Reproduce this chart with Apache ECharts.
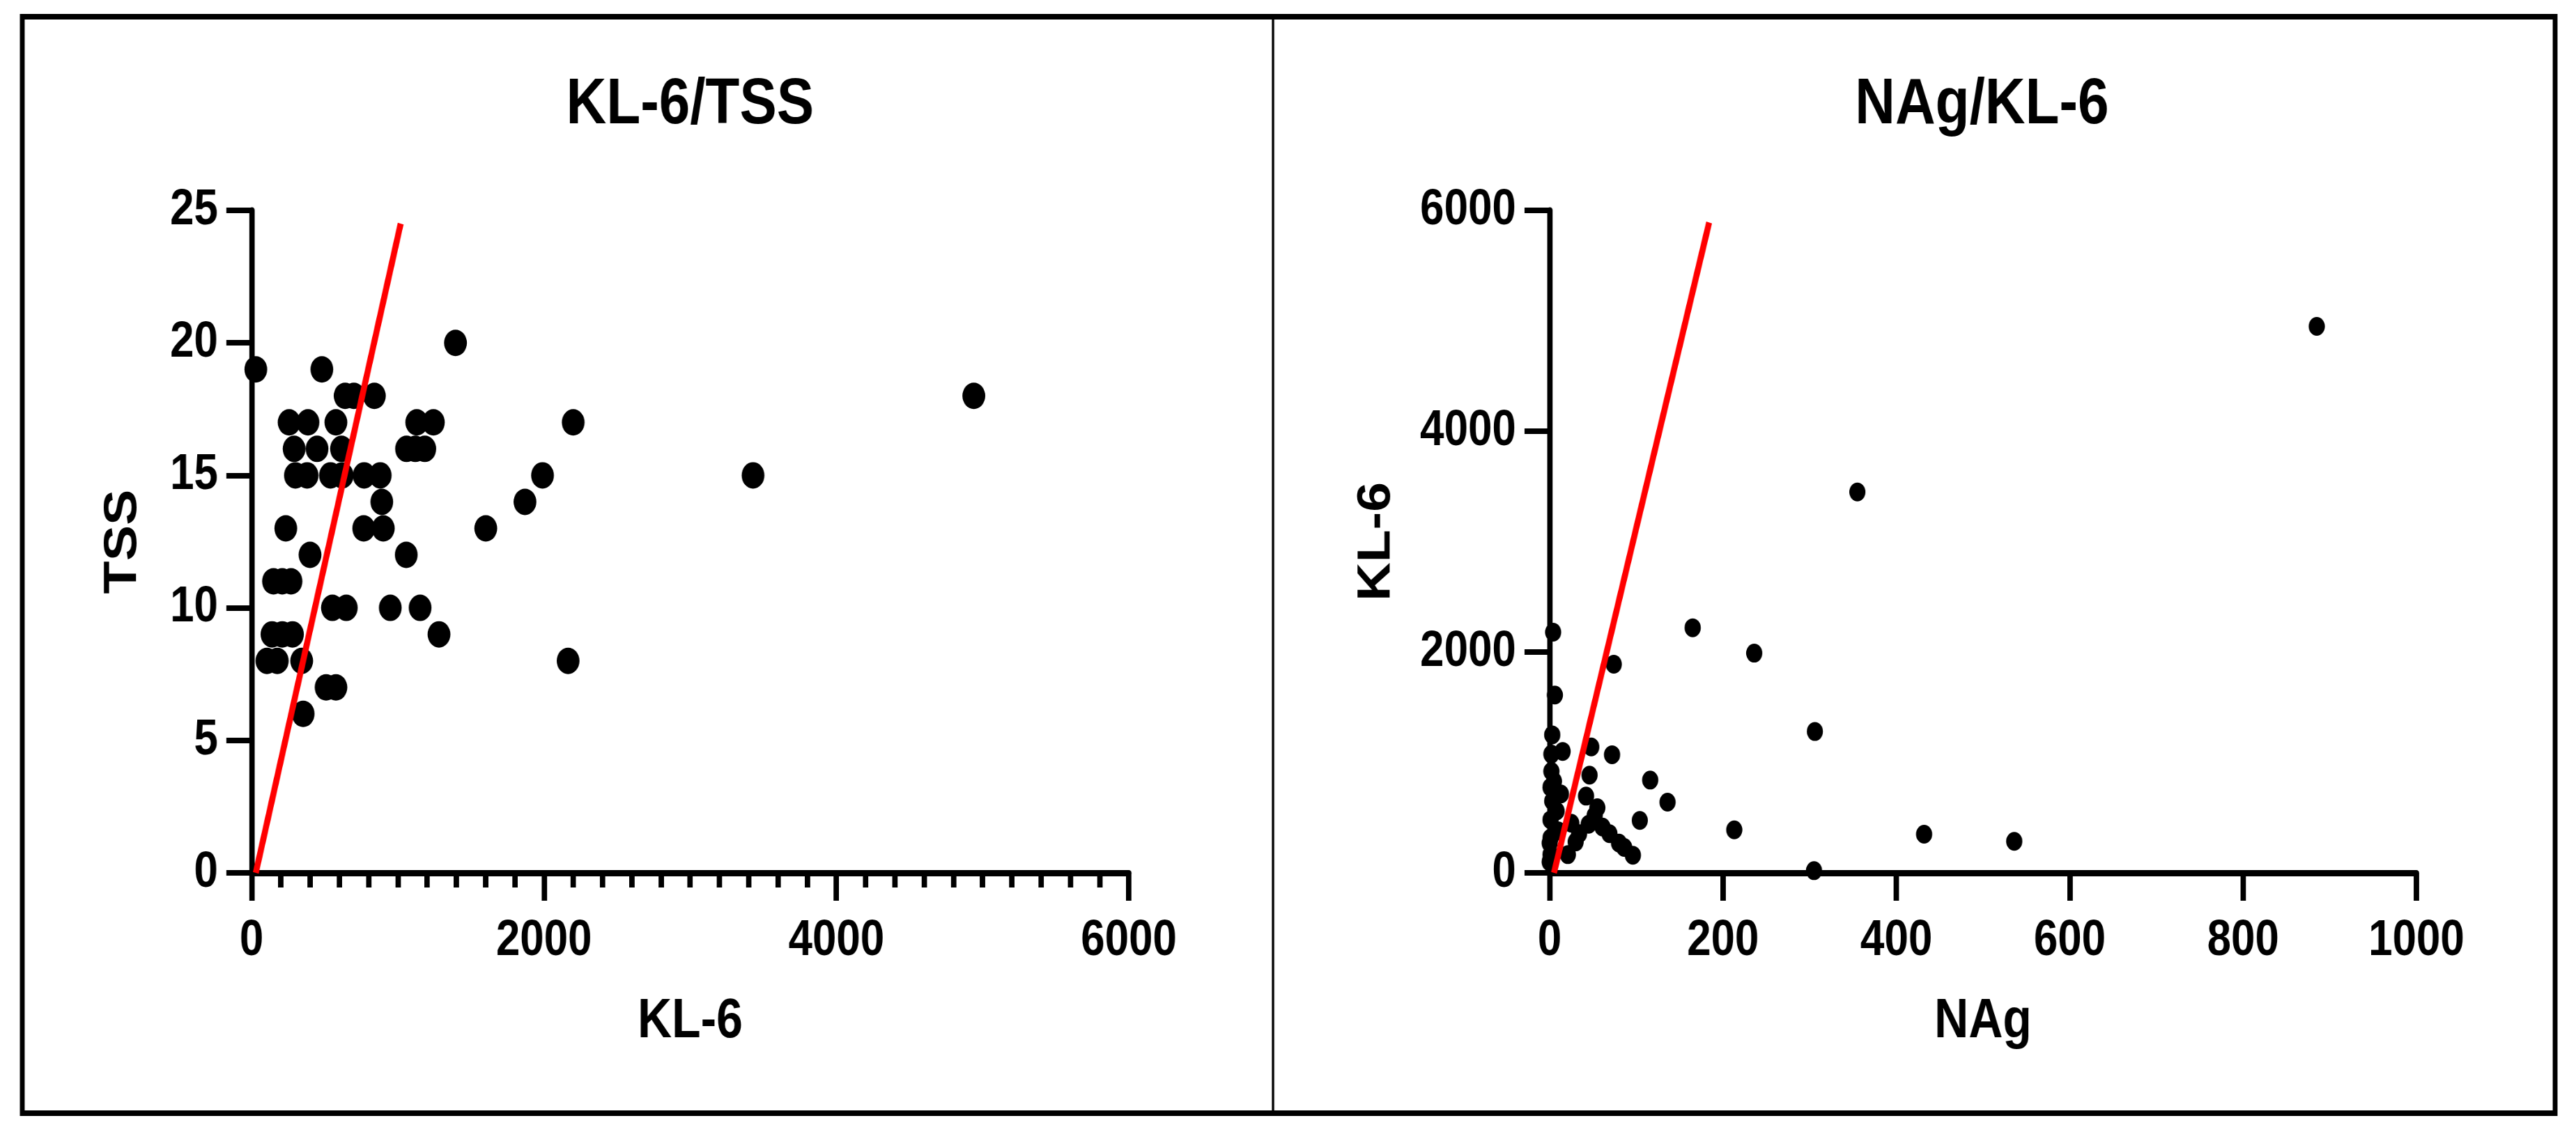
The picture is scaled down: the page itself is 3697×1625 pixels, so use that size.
<!DOCTYPE html>
<html>
<head>
<meta charset="utf-8">
<script src="https://cdn.jsdelivr.net/npm/echarts@6/dist/echarts.min.js"></script>
<style>
html, body { margin: 0; padding: 0; overflow: hidden; background: #ffffff; }
/* the source figure is squeezed horizontally, so the chart is drawn wider and squeezed back */
#chart { width: 4299px; height: 1625px; transform: scaleX(0.86); transform-origin: 0 0; }
</style>
</head>
<body>
<div id="chart"></div>
<script>
// KL-6 (x) vs TSS (y)
var kl6_tss = [
	[29,19],[481,19],[1395,20],
	[640,18],[700,18],[840,18],[4940,18],
	[257,17],[386,17],[577,17],[1130,17],[1244,17],[2200,17],
	[291,16],[448,16],[615,16],[1060,16],[1120,16],[1185,16],
	[300,15],[380,15],[540,15],[620,15],[770,15],[880,15],[1990,15],[3430,15],
	[891,14],[1870,14],
	[234,13],[767,13],[901,13],[1602,13],
	[400,12],[1058,12],
	[150,11],[210,11],[270,11],
	[553,10],[648,10],[949,10],[1153,10],
	[140,9],[210,9],[280,9],[1282,9],
	[105,8],[176,8],[343,8],[2165,8],
	[510,7],[577,7],
	[353,6]
];
// NAg (x) vs KL-6 (y)
var nag_kl6 = [
	[885,4950],[355,3450],[165,2220],[236,1990],[4,2180],[74,1890],[6,1610],
	[306,1280],[213,390],[432,350],[536,285],[305,20],
	[116,840],[136,640],[104,475],[72,1070],[48,1140],[15,1100],[3,1250],[46,885],
	[2,1075],[2,920],[1,775],[3,650],[1,480],[1,315],[1,165],[13,715],
	[42,695],[55,590],[34,355],[21,165],[61,415],[69,355],[80,270],[86,230],[96,160],
	[45,440],[0,100],[0,270],[8,560],[5,830],[10,380],[25,450],[30,280],[52,520]
];
var fit_left = [[29,0],[1020,24.5]];
var fit_right = [[5,0],[184,5890]];

var titles = ['KL-6/TSS', 'NAg/KL-6'];
var x_names = ['KL-6', 'NAg'];
var y_names = ['TSS', 'KL-6'];
var x_ranges = [[0, 6000, 2000], [0, 1000, 200]];
var y_ranges = [[0, 25, 5], [0, 6000, 2000]];

var SX = 0.86;
function u(x) { return x / SX; }

var FONT = "'Liberation Sans', Arial, sans-serif";
var grids = [
	{left: u(361), top: 302, width: u(1620) - u(361), height: 951},
	{left: u(2224), top: 302, width: u(3468) - u(2224), height: 951}
];

var f_plain = function(v) { return String(v); };

function f_xaxis(i, minor) {
	return {
		type: 'value', gridIndex: i,
		min: x_ranges[i][0], max: x_ranges[i][1], interval: x_ranges[i][2],
		name: x_names[i], nameLocation: 'middle', nameGap: 175,
		nameTextStyle: {fontSize: 79, fontWeight: 'bold', fontFamily: FONT, color: '#000'},
		axisLine: {show: true, onZero: false, lineStyle: {color: '#000', width: 9}},
		axisTick: {show: true, length: 40, lineStyle: {color: '#000', width: 9}},
		minorTick: {show: minor, splitNumber: 10, length: 21, lineStyle: {color: '#000', width: 9}},
		axisLabel: {margin: 62, fontSize: 72, fontWeight: 'bold', fontFamily: FONT, color: '#000', formatter: f_plain},
		splitLine: {show: false}
	};
}
function f_yaxis(i) {
	return {
		type: 'value', gridIndex: i,
		min: y_ranges[i][0], max: y_ranges[i][1], interval: y_ranges[i][2],
		name: y_names[i], nameLocation: 'middle', nameGap: i == 0 ? 176 : 250,
		nameTextStyle: {fontSize: 77, fontWeight: 'bold', fontFamily: FONT, color: '#000'},
		axisLine: {show: true, onZero: false, lineStyle: {color: '#000', width: 9}},
		axisTick: {show: true, length: 42, lineStyle: {color: '#000', width: 8}},
		axisLabel: {margin: 56, fontSize: 72, fontWeight: 'bold', fontFamily: FONT, color: '#000', formatter: f_plain},
		splitLine: {show: false}
	};
}

var option = {
	backgroundColor: '#ffffff',
	animation: false,
	title: [
		{text: titles[0], left: u(986), top: 100, textAlign: 'center',
			textStyle: {fontSize: 93, fontWeight: 'bold', fontFamily: FONT, color: '#000'}},
		{text: titles[1], left: u(2840), top: 100, textAlign: 'center',
			textStyle: {fontSize: 93, fontWeight: 'bold', fontFamily: FONT, color: '#000'}}
	],
	grid: grids,
	xAxis: [f_xaxis(0, true), f_xaxis(1, false)],
	yAxis: [f_yaxis(0), f_yaxis(1)],
	series: [
		{type: 'scatter', xAxisIndex: 0, yAxisIndex: 0, data: kl6_tss, symbolSize: 38,
			itemStyle: {color: '#000', opacity: 1}, clip: false, z: 3},
		{type: 'scatter', xAxisIndex: 1, yAxisIndex: 1, data: nag_kl6, symbolSize: 27,
			itemStyle: {color: '#000', opacity: 1}, clip: false, z: 3},
		{type: 'line', xAxisIndex: 0, yAxisIndex: 0, data: fit_left, showSymbol: false, symbol: 'none',
			lineStyle: {color: '#ff0000', width: 10}, clip: false, z: 4},
		{type: 'line', xAxisIndex: 1, yAxisIndex: 1, data: fit_right, showSymbol: false, symbol: 'none',
			lineStyle: {color: '#ff0000', width: 10}, clip: false, z: 4}
	],
	graphic: [
		{type: 'rect', shape: {x: u(32), y: 24, width: u(3667) - u(32), height: 1598 - 24},
			style: {fill: null, stroke: '#000', lineWidth: 8}, silent: true},
		{type: 'line', shape: {x1: u(1827), y1: 24, x2: u(1827), y2: 1598},
			style: {stroke: '#000', lineWidth: 4}, silent: true}
	]
};

var chart = echarts.init(document.getElementById('chart'));
chart.setOption(option);
</script>
</body>
</html>
